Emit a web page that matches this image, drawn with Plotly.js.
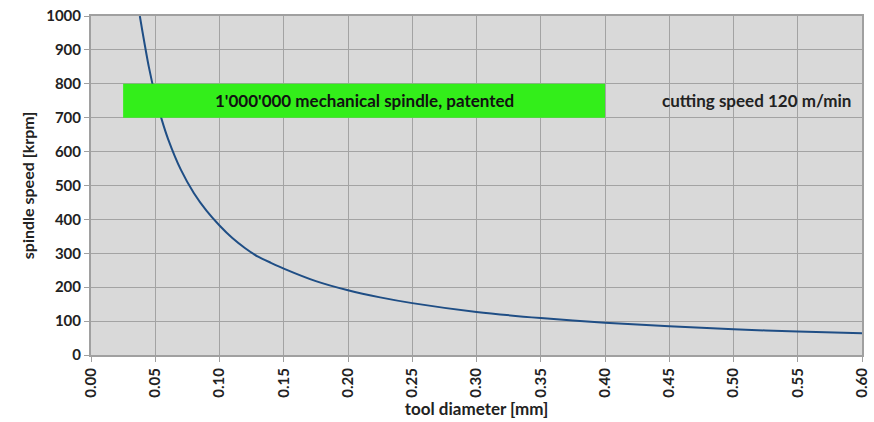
<!DOCTYPE html>
<html>
<head>
<meta charset="utf-8">
<script src="https://cdn.plot.ly/plotly-3.0.1.min.js"></script>
<style>html,body{margin:0;padding:0;background:#fff;}#chart{width:874px;height:422px;}</style>
</head>
<body>
<div id="chart"></div>
<script>
// tool diameter [mm]
var diameter = [0.038, 0.04, 0.045, 0.05, 0.055, 0.06, 0.07, 0.08, 0.09, 0.10, 0.11, 0.12, 0.13, 0.14, 0.15, 0.175, 0.20, 0.225, 0.25, 0.30, 0.35, 0.40, 0.45, 0.50, 0.55, 0.60];
// spindle speed [krpm]
var speed = [1000, 955, 850, 765, 695, 637, 546, 478, 425, 382, 345, 315, 290, 272, 255, 218, 191, 170, 153, 127, 109, 95, 85, 76, 69, 64];
var xTicks = [0, 0.05, 0.10, 0.15, 0.20, 0.25, 0.30, 0.35, 0.40, 0.45, 0.50, 0.55, 0.60];
var xTickLabels = ["0.00","0.05","0.10","0.15","0.20","0.25","0.30","0.35","0.40","0.45","0.50","0.55","0.60"];
var yTicks = [0,100,200,300,400,500,600,700,800,900,1000];
// patented spindle band
var bandX = [0.025, 0.40];
var bandY = [700, 800];
var bandLabel = "1'000'000 mechanical spindle, patented";
var noteLabel = "cutting speed 120 m/min";

var font = "Lato, 'Open Sans', sans-serif";
var trace = {
  x: diameter, y: speed, type: 'scatter', mode: 'lines',
  line: {color: '#1f4e85', width: 2, shape: 'spline', smoothing: 0.6},
  hoverinfo: 'skip'
};
var layout = {
  width: 874, height: 422,
  margin: {l: 91, r: 12, t: 16, b: 67},
  paper_bgcolor: '#ffffff', plot_bgcolor: '#d9d9d9',
  showlegend: false,
  font: {family: font, color: '#222', size: 15},
  xaxis: {
    range: [0, 0.6], tickvals: xTicks, ticktext: xTickLabels, tickangle: -90,
    showgrid: true, gridcolor: '#a3a3a3', gridwidth: 1,
    showline: true, linecolor: '#a0a0a0', linewidth: 2, mirror: true,
    ticks: 'outside', ticklen: 5, tickcolor: '#a0a0a0',
    tickfont: {family: font, size: 15, color: '#222', weight: 'bold'},
    zeroline: false, automargin: false,
    title: {text: 'tool diameter [mm]', font: {family: font, size: 17, color: '#222', weight: 'bold'}, standoff: 4}
  },
  yaxis: {
    range: [0, 1000], tickvals: yTicks,
    showgrid: true, gridcolor: '#a3a3a3', gridwidth: 1,
    showline: true, linecolor: '#a0a0a0', linewidth: 2, mirror: true,
    ticks: 'outside', ticklen: 5, tickcolor: '#a0a0a0',
    tickfont: {family: font, size: 15, color: '#222', weight: 'bold'},
    zeroline: false, automargin: false,
    title: {text: 'spindle speed [krpm]', font: {family: font, size: 16, color: '#222', weight: 'bold'}, standoff: 8}
  },
  shapes: [{
    type: 'rect', xref: 'x', yref: 'y',
    x0: bandX[0], x1: bandX[1], y0: bandY[0], y1: bandY[1],
    fillcolor: '#33ee1a', line: {width: 0}, layer: 'above'
  }],
  annotations: [
    {x: (bandX[0] + bandX[1]) / 2, y: (bandY[0] + bandY[1]) / 2, xref: 'x', yref: 'y',
     text: bandLabel, showarrow: false,
     font: {family: font, size: 17, color: '#111', weight: 'bold'}},
    {x: 0.593, y: 750, xref: 'x', yref: 'y', xanchor: 'right',
     text: noteLabel, showarrow: false,
     font: {family: font, size: 17, color: '#222', weight: 'bold'}}
  ]
};
Plotly.newPlot('chart', [trace], layout, {displayModeBar: false, staticPlot: true});
</script>
</body>
</html>
